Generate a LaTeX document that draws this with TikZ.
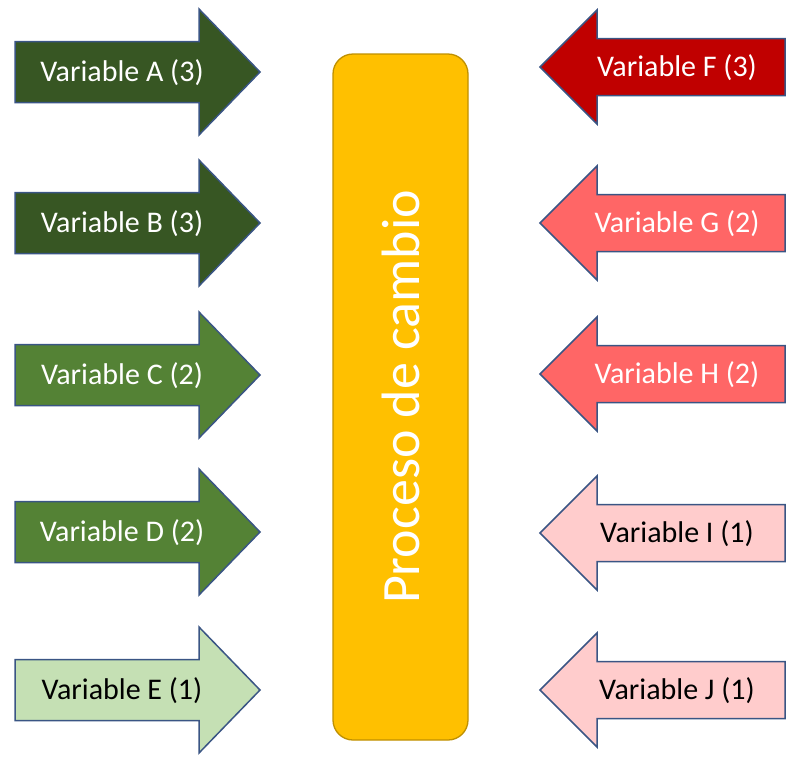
\documentclass[tikz,border=0pt]{standalone}
\usepackage{fontspec}
\setmainfont{Carlito}
\usetikzlibrary{positioning}
\definecolor{greenA}{HTML}{375623}
\definecolor{greenC}{HTML}{548235}
\definecolor{greenE}{HTML}{C5E0B4}
\definecolor{redF}{HTML}{C00000}
\definecolor{redG}{HTML}{FF6666}
\definecolor{redI}{HTML}{FFCCCC}
\definecolor{outline}{HTML}{3A5584}
\definecolor{gold}{HTML}{FFC000}
\definecolor{golddark}{HTML}{BF9000}
\tikzset{
	arrowshape/.style={
		% The border:
		draw=outline, line width=1.5pt, line join=miter,
	}}
\tikzset{
	varlabel/.style={
		% The text:
		inner sep=0pt,
		font=\fontsize{30}{36}\selectfont,
	}}
\tikzset{
	process/.style={
		% The shape:
		shape=rectangle,rounded corners=20pt,
		% The size:
		minimum width=686pt,minimum height=135pt,
		% The border and filling:
		draw=golddark, line width=1.3pt, fill=gold,
		text=white, font=\fontsize{54}{62}\selectfont,
	}}

\begin{document}
\begin{tikzpicture}[x=1pt,y=-1pt]
	\useasboundingbox (0,0) rectangle (804,772);
	% central box
	\node[process,rotate=90] (proc) at (400.5,397) {Proceso de cambio};
	% arrows on the left
	\foreach \cy/\fillc/\textc/\name/\txt in {
		72/greenA/white/a/{Variable A (3)},
		223/greenA/white/b/{Variable B (3)},
		375/greenC/white/c/{Variable C (2)},
		532/greenC/white/d/{Variable D (2)},
		690/greenE/black/e/{Variable E (1)}}{
		\draw[arrowshape,fill=\fillc] (15,\cy-30.5) -- (199,\cy-30.5) -- (199,\cy-63)
			-- (260,\cy) -- (199,\cy+63) -- (199,\cy+30.5) -- (15,\cy+30.5) -- cycle;
		\node[varlabel,text=\textc] (\name) at (122,\cy+1) {\txt};
	}
	% arrows on the right
	\foreach \cy/\fillc/\textc/\name/\txt in {
		67/redF/white/f/{Variable F (3)},
		223/redG/white/g/{Variable G (2)},
		374/redG/white/h/{Variable H (2)},
		533/redI/black/i/{Variable I (1)},
		690/redI/black/j/{Variable J (1)}}{
		\draw[arrowshape,fill=\fillc] (785,\cy-28.5) -- (597,\cy-28.5) -- (597,\cy-57)
			-- (540,\cy) -- (597,\cy+57) -- (597,\cy+28.5) -- (785,\cy+28.5) -- cycle;
		\node[varlabel,text=\textc] (\name) at (677,\cy+1) {\txt};
	}
\end{tikzpicture}
\end{document}
